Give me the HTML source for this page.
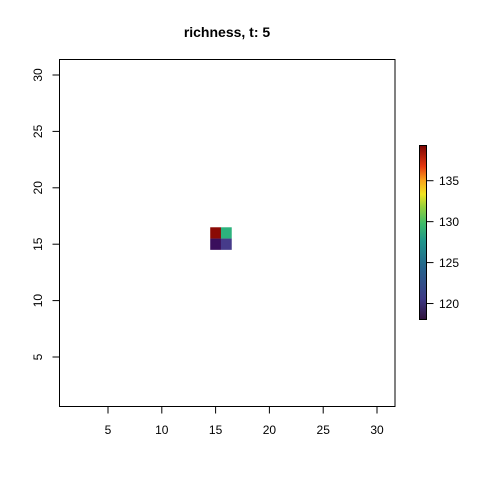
<!DOCTYPE html>
<html><head><meta charset="utf-8"><style>
body{margin:0;background:#fff;}
svg{display:block;font-family:"Liberation Sans",Arial,sans-serif;}
</style></head><body>
<svg id="chart" width="480" height="480">
<defs>
<linearGradient id="cbar" x1="0" y1="1" x2="0" y2="0">
<stop offset="0" stop-color="#30123b"/>
<stop offset="0.12" stop-color="#3e3a86"/>
<stop offset="0.3" stop-color="#25648c"/>
<stop offset="0.45" stop-color="#1f958b"/>
<stop offset="0.55" stop-color="#3dbc6a"/>
<stop offset="0.65" stop-color="#98d13a"/>
<stop offset="0.72" stop-color="#f0e422"/>
<stop offset="0.8" stop-color="#f9a21a"/>
<stop offset="0.88" stop-color="#e5370f"/>
<stop offset="1" stop-color="#7a0403"/>
</linearGradient>
</defs>
<text x="227" y="37" text-anchor="middle" font-size="14" font-weight="bold">richness, t: 5</text>
<g id="cells"></g>
<rect x="59.5" y="59.5" width="335.5" height="347" fill="none" stroke="#000"/>
<g id="axes"></g>
<rect x="419.5" y="145.5" width="7" height="174" fill="url(#cbar)" stroke="#000"/>
<g id="cbticks"></g>
</svg>
<script>
const xTicks=[5,10,15,20,25,30];
const yTicks=[5,10,15,20,25,30];
const cellX=[15,16,15,16];
const cellY=[16,16,15,15];
const cellValues=[139,127,118,120];
const cellColors=["#8b0a05","#2db27d","#3a0f5c","#463b8a"];
const cbTicks=[120,125,130,135];
const NS="http://www.w3.org/2000/svg";
const sx=v=>108+(v-5)*10.76;
const sy=v=>357-(v-5)*11.28;
const cbMin=118.05,cbMax=139.3;
const cy=v=>319.5-(v-cbMin)/(cbMax-cbMin)*174;
function mk(t,a,p){const e=document.createElementNS(NS,t);for(const k in a)e.setAttribute(k,a[k]);p.appendChild(e);return e;}
const cells=document.getElementById('cells');
cellValues.forEach((v,i)=>{
 const r=mk('rect',{x:sx(cellX[i]-0.5),y:sy(cellY[i]+0.5),width:sx(cellX[i]+0.5)-sx(cellX[i]-0.5),height:sy(cellY[i]-0.5)-sy(cellY[i]+0.5),fill:cellColors[i]},cells);
 
 
});
const ax=document.getElementById('axes');
xTicks.forEach(t=>{
 const l=mk('line',{x1:sx(t),x2:sx(t),y1:406.5,y2:413.5,stroke:'#000'},ax);
 
 
 const tx=mk('text',{x:sx(t),y:434,'text-anchor':'middle','font-size':12},ax);
 tx.textContent=t;
 
 
});
yTicks.forEach(t=>{
 const l=mk('line',{x1:52.5,x2:59.5,y1:sy(t),y2:sy(t),stroke:'#000'},ax);
 
 
 const tx=mk('text',{x:0,y:0,'text-anchor':'middle','font-size':12,transform:`translate(42,${sy(t)}) rotate(-90)`},ax);
 tx.textContent=t;
 
 
});
const cb=document.getElementById('cbticks');
cbTicks.forEach(t=>{
 const l=mk('line',{x1:426.5,x2:433.5,y1:cy(t),y2:cy(t),stroke:'#000'},cb);
 
 
 const tx=mk('text',{x:439,y:cy(t)+4.5,'font-size':12},cb);
 tx.textContent=t;
 
 
});
</script>
</body></html>
